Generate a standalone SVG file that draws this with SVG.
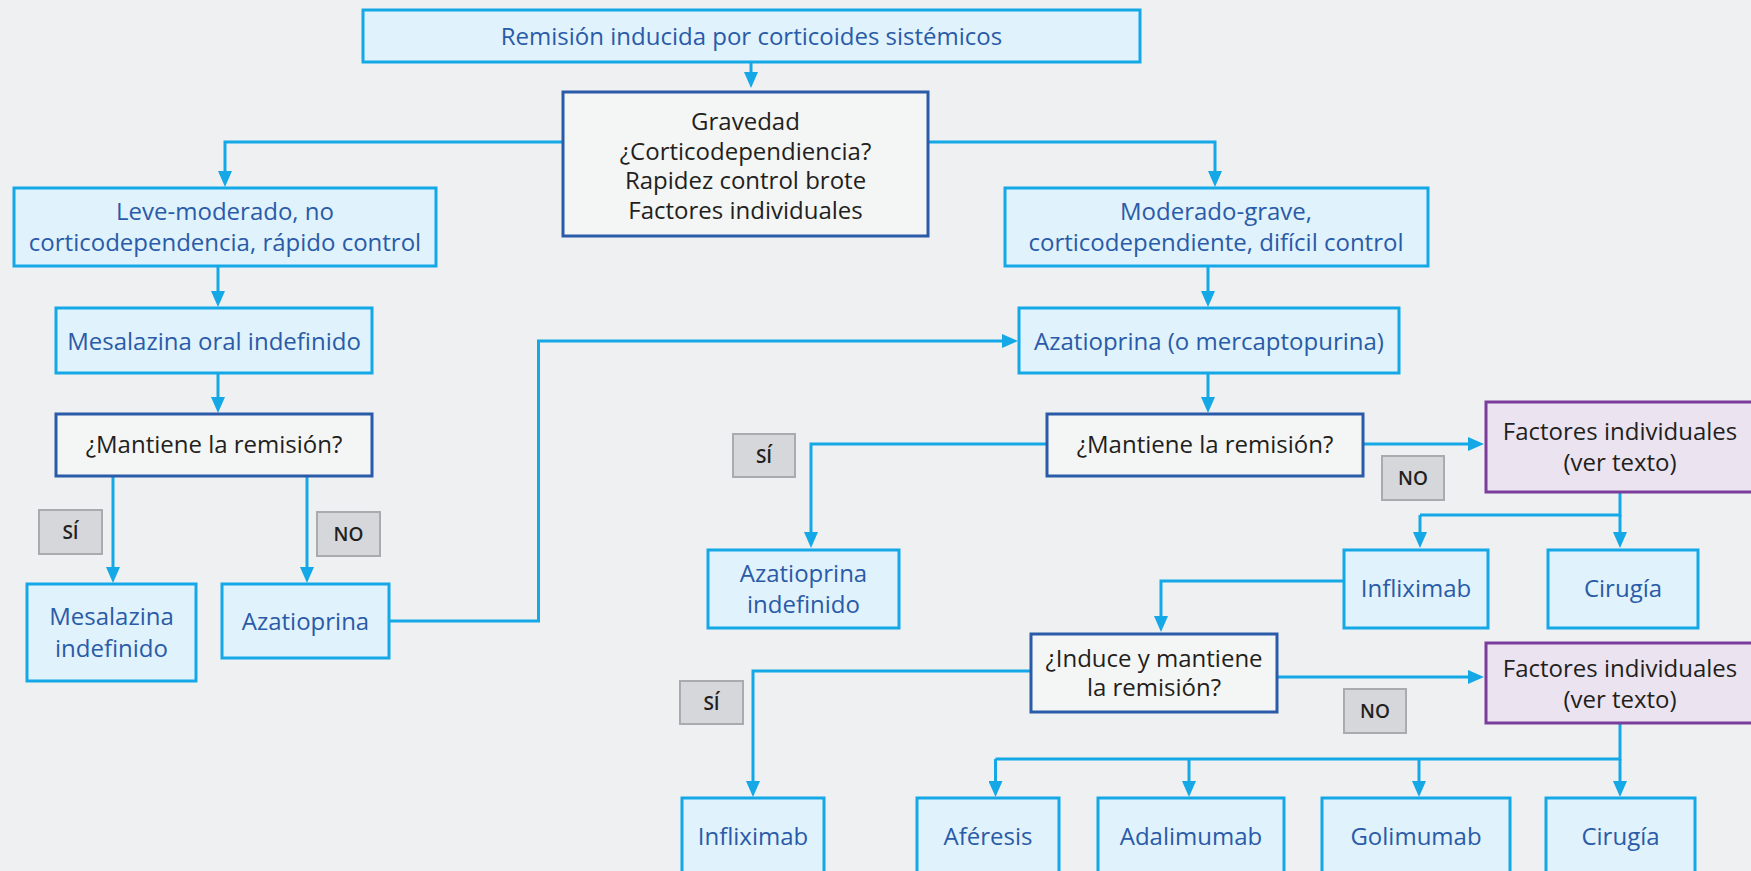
<svg xmlns="http://www.w3.org/2000/svg" width="1751" height="871" viewBox="0 0 1751 871">
<defs>
<marker id="arr" viewBox="0 0 16 14" markerWidth="16" markerHeight="14" refX="6" refY="7" orient="auto" markerUnits="userSpaceOnUse">
<path d="M0,0 L16,7 L0,14 z" fill="#14a8e6"/>
</marker>
<style>
.lb rect{fill:#e0f2fb;stroke:#14a8e6;stroke-width:3}
.lb text{fill:#2a5ba8}
.db rect{fill:#f4f5f5;stroke:#2a5ba8;stroke-width:3}
.pb rect{fill:#ebe3f0;stroke:#7a3d9c;stroke-width:3}
.gb rect{fill:#d6d7db;stroke:#a9abae;stroke-width:2}
.gb text{font-size:19px;font-weight:600}
text{font-family:"Open Sans","Noto Sans","Liberation Sans",sans-serif;font-size:24px;fill:#231f20;text-anchor:middle}
#connectors path{fill:none;stroke:#14a8e6;stroke-width:3;marker-end:url(#arr)}
#connectors path.n{marker-end:none}
</style>
</defs>
<rect x="0" y="0" width="1751" height="871" fill="#eff0f2"/>
<g id="connectors">
<path d="M751,62 V78"/>
<path d="M563,142 H225 V177"/>
<path d="M928,142 H1215 V177"/>
<path d="M218,266 V297"/>
<path d="M1208,266 V297"/>
<path d="M218,373 V403"/>
<path d="M1208,373 V403"/>
<path d="M113,476 V573"/>
<path d="M307,476 V573"/>
<path d="M389,621 H538.5 V341 H1008"/>
<path d="M1047,444 H811 V538"/>
<path d="M1363,444 H1474"/>
<path class="n" d="M1620,492 V515 H1420"/>
<path d="M1420,515 V538"/>
<path d="M1620,515 V538"/>
<path d="M1344,581 H1161 V622"/>
<path d="M1031,671 H753 V787"/>
<path d="M1277,677 H1474"/>
<path class="n" d="M1620,723 V759 H995.5"/>
<path d="M995.5,759 V787"/>
<path d="M1189,759 V787"/>
<path d="M1419,759 V787"/>
<path d="M1620,759 V787"/>
</g>
<g id="n-top" class="lb"><rect x="363" y="10" width="777" height="52"/><text x="751.5" y="44.5">Remisión inducida por corticoides sistémicos</text></g>
<g id="n-gravedad" class="db"><rect x="563" y="92" width="365" height="144"/><text x="745.5" y="130">Gravedad</text><text x="745.5" y="159.5">¿Corticodependiencia?</text><text x="745.5" y="189">Rapidez control brote</text><text x="745.5" y="218.5">Factores individuales</text></g>
<g id="n-leve" class="lb"><rect x="14" y="188" width="422" height="78"/><text x="225" y="220">Leve-moderado, no</text><text x="225" y="251">corticodependencia, rápido control</text></g>
<g id="n-moderado" class="lb"><rect x="1005" y="188" width="423" height="78"/><text x="1216" y="220">Moderado-grave,</text><text x="1216" y="251">corticodependiente, difícil control</text></g>
<g id="n-mesoral" class="lb"><rect x="56" y="308" width="316" height="65"/><text x="214" y="350">Mesalazina oral indefinido</text></g>
<g id="n-mantiene1" class="db"><rect x="56" y="414" width="316" height="62"/><text x="214" y="453">¿Mantiene la remisión?</text></g>
<g id="l-si1" class="gb"><rect x="39" y="510" width="63" height="44"/><text x="70.5" y="539">SÍ</text></g>
<g id="l-no1" class="gb"><rect x="317" y="512" width="63" height="44"/><text x="348.5" y="541">NO</text></g>
<g id="n-mesind" class="lb"><rect x="27" y="584" width="169" height="97"/><text x="111.5" y="625">Mesalazina</text><text x="111.5" y="657">indefinido</text></g>
<g id="n-aza1" class="lb"><rect x="222" y="584" width="167" height="74"/><text x="305.5" y="630">Azatioprina</text></g>
<g id="n-azamerc" class="lb"><rect x="1019" y="308" width="380" height="65"/><text x="1209" y="350">Azatioprina (o mercaptopurina)</text></g>
<g id="n-mantiene2" class="db"><rect x="1047" y="414" width="316" height="62"/><text x="1205" y="453">¿Mantiene la remisión?</text></g>
<g id="l-si2" class="gb"><rect x="733" y="434" width="62" height="43"/><text x="764" y="463">SÍ</text></g>
<g id="n-azaind" class="lb"><rect x="708" y="550" width="191" height="78"/><text x="803.5" y="582">Azatioprina</text><text x="803.5" y="613">indefinido</text></g>
<g id="l-no2" class="gb"><rect x="1382" y="456" width="62" height="44"/><text x="1413" y="485">NO</text></g>
<g id="n-factores1" class="pb"><rect x="1486" y="402" width="275" height="90"/><text x="1620" y="440">Factores individuales</text><text x="1620" y="471">(ver texto)</text></g>
<g id="n-inflix1" class="lb"><rect x="1344" y="550" width="144" height="78"/><text x="1416" y="597">Infliximab</text></g>
<g id="n-cirugia1" class="lb"><rect x="1548" y="550" width="150" height="78"/><text x="1623" y="597">Cirugía</text></g>
<g id="n-induce" class="db"><rect x="1031" y="634" width="246" height="78"/><text x="1154" y="667">¿Induce y mantiene</text><text x="1154" y="696">la remisión?</text></g>
<g id="l-si3" class="gb"><rect x="680" y="681" width="63" height="43"/><text x="711.5" y="710">SÍ</text></g>
<g id="l-no3" class="gb"><rect x="1344" y="689" width="62" height="44"/><text x="1375" y="718">NO</text></g>
<g id="n-factores2" class="pb"><rect x="1486" y="643" width="275" height="80"/><text x="1620" y="677">Factores individuales</text><text x="1620" y="708">(ver texto)</text></g>
<g id="n-inflix2" class="lb"><rect x="682" y="798" width="142" height="100"/><text x="753" y="845">Infliximab</text></g>
<g id="n-aferesis" class="lb"><rect x="917" y="798" width="142" height="100"/><text x="988" y="845">Aféresis</text></g>
<g id="n-adalimumab" class="lb"><rect x="1098" y="798" width="186" height="100"/><text x="1191" y="845">Adalimumab</text></g>
<g id="n-golimumab" class="lb"><rect x="1322" y="798" width="188" height="100"/><text x="1416" y="845">Golimumab</text></g>
<g id="n-cirugia2" class="lb"><rect x="1546" y="798" width="149" height="100"/><text x="1620.5" y="845">Cirugía</text></g>
</svg>
